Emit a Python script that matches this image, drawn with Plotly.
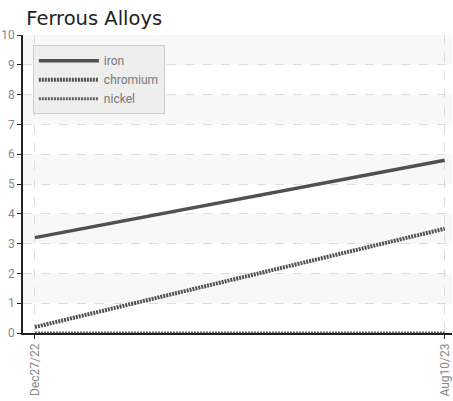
import plotly.graph_objects as go

dates = ["2022-12-27", "2023-08-10"]
date_labels = ["Dec27/22", "Aug10/23"]
iron = [3.2, 5.8]
chromium = [0.2, 3.5]
nickel = [0.0, 0.0]
y_ticks = list(range(0, 11))
bands = [(1, 2), (3, 4), (5, 6), (7, 8), (9, 10)]

fig = go.Figure()
fig.add_trace(go.Scatter(x=dates, y=iron, name="iron", mode="lines",
                         line=dict(color="#505050", width=3.5)))
fig.add_trace(go.Scatter(x=dates, y=chromium, name="chromium", mode="lines",
                         line=dict(color="#505050", width=4, dash="2px,1px")))
fig.add_trace(go.Scatter(x=dates, y=nickel, name="nickel", mode="lines",
                         line=dict(color="#606060", width=3, dash="2px,1px")))

for y0, y1 in bands:
    fig.add_shape(type="rect", xref="paper", yref="y", x0=0, x1=1, y0=y0, y1=y1,
                  fillcolor="#f8f8f8", line_width=0, layer="below")

tickfont = dict(family="Roboto, sans-serif", size=12, color="#888888")

fig.update_layout(
    width=453, height=401,
    margin=dict(l=23, r=1, t=35, b=68, autoexpand=False),
    paper_bgcolor="white", plot_bgcolor="white",
    title=dict(text="Ferrous Alloys", x=0.058, xanchor="left", y=0.955, yanchor="middle",
               pad=dict(l=0, r=0, t=0, b=0),
               font=dict(family="DejaVu Sans", size=19.5, color="#222222")),
    legend=dict(x=0.023, y=0.966, xanchor="left", yanchor="top",
                bgcolor="#eeeeee", bordercolor="#cccccc", borderwidth=1,
                font=dict(family="Roboto, sans-serif", size=12, color="#777777"),
                tracegroupgap=0, itemwidth=60),
    showlegend=True,
)
fig.update_xaxes(
    range=["2022-12-20 10:00", "2023-08-14"],
    tickvals=dates, ticktext=date_labels, tickangle=-90,
    tickfont=tickfont, automargin=False, ticklabeloverflow="allow",
    showgrid=True, gridcolor="#dddddd", griddash="dash", gridwidth=1,
    showline=True, linecolor="#222222", linewidth=1.5,
    ticks="outside", ticklen=4, tickcolor="#222222",
    zeroline=False,
)
fig.update_yaxes(
    range=[0, 10], tickvals=y_ticks,
    tickfont=tickfont, automargin=False, ticklabeloverflow="allow",
    showgrid=True, gridcolor="#dddddd", griddash="dash", gridwidth=1,
    showline=True, linecolor="#222222", linewidth=1.5,
    ticks="outside", ticklen=4, tickcolor="#222222",
    zeroline=False,
)

fig.write_html("out.html", config={"displayModeBar": False},
               post_script="document.body.style.margin='0';document.body.style.padding='0';")
